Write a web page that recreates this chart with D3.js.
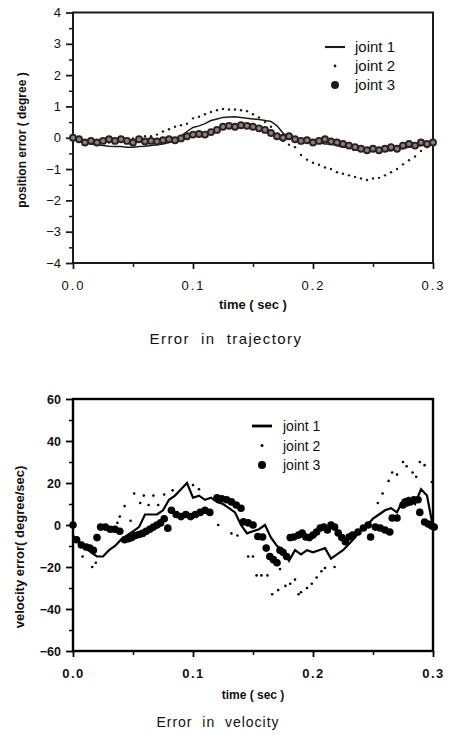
<!DOCTYPE html>
<html><head><meta charset="utf-8">
<script src="https://cdn.jsdelivr.net/npm/d3@7/dist/d3.min.js"></script>
<style>
html,body{margin:0;padding:0;background:#fff;}
svg{display:block;}
text{font-family:"Liberation Sans",Arial,Helvetica,sans-serif;fill:#111;}
</style></head>
<body>
<script>
// ---------- DATA: position error (top) ----------
const posTime = [0,0.005,0.01,0.015,0.02,0.025,0.03,0.035,0.04,0.045,0.05,0.055,0.06,0.065,0.07,0.075,0.08,0.085,0.09,0.095,0.1,0.105,0.11,0.115,0.12,0.125,0.13,0.135,0.14,0.145,0.15,0.155,0.16,0.165,0.17,0.175,0.18,0.185,0.19,0.195,0.2,0.205,0.21,0.215,0.22,0.225,0.23,0.235,0.24,0.245,0.25,0.255,0.26,0.265,0.27,0.275,0.28,0.285,0.29,0.295,0.3];
const posJoint1 = [0,-0.1,-0.15,-0.2,-0.22,-0.25,-0.27,-0.28,-0.28,-0.3,-0.3,-0.28,-0.27,-0.25,-0.22,-0.2,-0.15,-0.1,0.05,0.2,0.33,0.38,0.45,0.55,0.6,0.65,0.66,0.67,0.65,0.62,0.6,0.58,0.55,0.52,0.38,0.15,0.03,-0.05,-0.1,-0.1,-0.15,-0.15,-0.2,-0.2,-0.25,-0.3,-0.3,-0.35,-0.35,-0.4,-0.4,-0.42,-0.4,-0.42,-0.35,-0.35,-0.3,-0.28,-0.25,-0.2,-0.15];
const posJoint2 = [0,-0.05,-0.1,-0.12,-0.15,-0.15,-0.15,-0.12,-0.1,-0.05,-0.02,0,0.05,0.05,0.1,0.2,0.27,0.35,0.4,0.45,0.62,0.67,0.75,0.82,0.88,0.92,0.9,0.9,0.88,0.85,0.75,0.65,0.5,0.35,0.1,-0.1,-0.22,-0.3,-0.55,-0.7,-0.8,-0.86,-0.95,-1.0,-1.1,-1.15,-1.2,-1.25,-1.3,-1.35,-1.3,-1.28,-1.2,-1.1,-1.0,-0.85,-0.72,-0.6,-0.42,-0.3,-0.2];
const posJoint3 = [0,-0.05,-0.15,-0.1,-0.15,-0.1,-0.05,-0.1,-0.05,-0.1,-0.15,-0.05,-0.12,-0.1,-0.12,-0.08,-0.05,-0.08,-0.02,0.05,0.1,0.12,0.1,0.18,0.25,0.35,0.38,0.35,0.4,0.38,0.35,0.3,0.25,0.15,0.05,0,0.05,-0.05,-0.1,-0.08,-0.15,-0.1,-0.05,-0.12,-0.15,-0.2,-0.25,-0.3,-0.35,-0.4,-0.35,-0.4,-0.35,-0.3,-0.35,-0.25,-0.2,-0.25,-0.15,-0.2,-0.15];
const posYTicks = [-4,-3,-2,-1,0,1,2,3,4];
const posYMinor = [-3.5,-2.5,-1.5,-0.5,0.5,1.5,2.5,3.5];

// ---------- DATA: velocity error (bottom) ----------
const velTime1 = [0,0.005,0.01,0.015,0.02,0.025,0.03,0.035,0.04,0.045,0.05,0.055,0.06,0.065,0.07,0.075,0.08,0.085,0.09,0.095,0.1,0.105,0.11,0.115,0.12,0.125,0.13,0.135,0.14,0.145,0.15,0.155,0.16,0.165,0.17,0.175,0.18,0.185,0.19,0.195,0.2,0.205,0.21,0.215,0.22,0.225,0.23,0.235,0.24,0.245,0.25,0.255,0.26,0.265,0.27,0.275,0.28,0.285,0.29,0.295,0.3];
const velJoint1 = [-5,-8,-10,-13,-15,-15,-12,-10,-7,-5,-3,-1,5,5,5,7,12,14,17,20,13,14,12,13,11,10,8,6,0,-4,-3,-2,0,-6,-10,-12,-17,-12,-14,-12,-13,-12,-11,-16,-14,-12,-9,-6,-2,0,3,5,7,8,6,12,13,10,17,14,-1];
const velTime2 = [0.008,0.016,0.019,0.037,0.039,0.043,0.048,0.051,0.056,0.059,0.063,0.067,0.071,0.076,0.083,0.1,0.105,0.121,0.132,0.137,0.146,0.15,0.153,0.157,0.162,0.166,0.171,0.1725,0.177,0.181,0.185,0.188,0.19,0.195,0.199,0.203,0.207,0.21,0.218,0.254,0.258,0.263,0.266,0.27,0.275,0.278,0.283,0.286,0.289,0.293,0.299];
const velJoint2 = [-15,-20,-18,1,4,9,2,15,10.5,14,9.5,14,9.5,14.5,16.5,19,17,0,-4,-5,-15,-15,-24,-24,-24,-33,-31,-21,-29,-28,-26,-33,-32,-30,-28,-25,-22,-20.5,-20,10.5,15,21,25,24,30,28,25,23,30,28.5,20.5];
const velTime3 = [0,0.003,0.007,0.011,0.014,0.017,0.02,0.023,0.027,0.031,0.035,0.039,0.043,0.046,0.049,0.052,0.055,0.058,0.061,0.064,0.067,0.07,0.073,0.076,0.079,0.082,0.086,0.09,0.094,0.098,0.102,0.106,0.11,0.114,0.12,0.124,0.128,0.132,0.136,0.14,0.142,0.146,0.15,0.154,0.158,0.161,0.164,0.167,0.17,0.1725,0.175,0.178,0.181,0.184,0.188,0.191,0.194,0.197,0.2,0.203,0.206,0.209,0.212,0.215,0.218,0.221,0.224,0.227,0.23,0.233,0.2375,0.242,0.246,0.248,0.252,0.256,0.26,0.264,0.266,0.27,0.275,0.278,0.281,0.284,0.2875,0.289,0.293,0.296,0.299,0.301];
const velJoint3 = [0,-7,-9.5,-10.5,-11,-12,-6,-1,-1,-2,-2,-3,-7,-6.5,-6,-5,-4.5,-4,-3,-2,-1,0,1,3,-1.5,7,5,4,5,4,5,6,7,6,13,12.5,12,11,9.5,8,1.5,1,0,-5.5,-5.7,-11,-15,-16.5,-18,-12,-13,-15,-6,-5.7,-4.8,-3.8,-5.7,-6,-4.8,-3.3,-1.4,-1,-2.4,0,-1,-3.8,-6,-8,-5.7,-4.8,-3.3,-1.4,0,-5.7,-1,-1.4,-2.4,-3.3,3.3,3.3,9.5,10.5,11,12,12,6,1.4,0.5,-0.5,-1];
const velYTicks = [-60,-40,-20,0,20,40,60];
const velYMinor = [-50,-30,-10,10,30,50];

const xTicks = [0,0.1,0.2,0.3];
const xMinor = [0.05,0.15,0.25];
const legendLabels = ["joint 1","joint 2","joint 3"];

// ---------- DRAW ----------
const W = 454, H = 735;
const svg = d3.select("body").append("svg").attr("width", W).attr("height", H);

function panel(cfg){
  const g = svg.append("g");
  const x = d3.scaleLinear().domain([0,0.3]).range([73,433]);
  const y = d3.scaleLinear().domain(cfg.yDomain).range(cfg.yRange);
  const ink = cfg.ink;
  g.append("rect").attr("x",73).attr("y",cfg.yRange[1]).attr("width",360).attr("height",cfg.yRange[0]-cfg.yRange[1])
    .attr("fill","none").attr("stroke",ink).attr("stroke-width",cfg.frameW);
  const ya = g.append("g").attr("transform","translate(73,0)")
    .call(d3.axisLeft(y).tickValues(cfg.yTicks).tickSize(7).tickPadding(5).tickFormat(d3.format("d")));
  ya.select(".domain").remove();
  ya.selectAll("line").attr("stroke",ink).attr("stroke-width",1.8);
  ya.selectAll("text").attr("font-size",cfg.yFont).attr("font-weight",cfg.yWeight).attr("fill",ink);
  const ym = g.append("g").attr("transform","translate(73,0)")
    .call(d3.axisLeft(y).tickValues(cfg.yMinor).tickSize(4).tickFormat(""));
  ym.select(".domain").remove();
  ym.selectAll("line").attr("stroke",ink).attr("stroke-width",1.5);
  const xa = g.append("g").attr("transform",`translate(0,${cfg.yRange[0]})`)
    .call(d3.axisBottom(x).tickValues(xTicks).tickSize(6).tickPadding(12).tickFormat(d3.format(".1f")));
  xa.select(".domain").remove();
  xa.selectAll("line").attr("stroke",ink).attr("stroke-width",1.8);
  xa.selectAll("text").attr("font-size",cfg.xFont).attr("font-weight",cfg.xWeight).attr("letter-spacing",cfg.xSpacing).attr("fill",ink);
  const xm = g.append("g").attr("transform",`translate(0,${cfg.yRange[0]})`)
    .call(d3.axisBottom(x).tickValues(xMinor).tickSize(4).tickFormat(""));
  xm.select(".domain").remove();
  xm.selectAll("line").attr("stroke",ink).attr("stroke-width",1.5);
  g.append("text").attr("x",253).attr("y",cfg.xTitleY).attr("text-anchor","middle")
    .attr("font-size",cfg.xTitleFont).attr("font-weight","bold").text("time ( sec )");
  g.append("text").attr("transform",`translate(${cfg.yTitleX},${cfg.yTitleCY}) rotate(-90)`).attr("text-anchor","middle")
    .attr("font-size",cfg.yTitleFont).attr("font-weight","bold").text(cfg.yTitle);
  g.append("text").attr("x",cfg.capX).attr("y",cfg.capY).attr("text-anchor","middle")
    .attr("font-size",cfg.capFont).attr("letter-spacing",cfg.capSpacing).attr("font-weight",cfg.capWeight)
    .attr("xml:space","preserve").style("white-space","pre").text(cfg.caption);

  const plot = g.append("g");
  const line = d3.line().x(d=>x(d[0])).y(d=>y(d[1]));
  plot.append("path").datum(d3.zip(cfg.t1,cfg.v1)).attr("d",line).attr("fill","none")
    .attr("stroke",ink).attr("stroke-width",cfg.lineW).attr("stroke-linejoin","miter");
  plot.selectAll(".j2").data(d3.zip(cfg.t2,cfg.v2)).join("circle").attr("class","j2")
    .attr("cx",d=>x(d[0])).attr("cy",d=>y(d[1])).attr("r",cfg.dotR).attr("fill",ink);
  plot.selectAll(".j3").data(d3.zip(cfg.t3,cfg.v3)).join("circle").attr("class","j3")
    .attr("cx",d=>x(d[0])).attr("cy",d=>y(d[1])).attr("r",cfg.j3R)
    .attr("fill",cfg.j3Fill).attr("stroke",cfg.j3Stroke).attr("stroke-width",cfg.j3SW);

  const lg = g.append("g");
  const L = cfg.legend;
  lg.append("line").attr("x1",L.x-10).attr("x2",L.x+10).attr("y1",L.y).attr("y2",L.y).attr("stroke",ink).attr("stroke-width",cfg.lineW+0.6);
  lg.append("circle").attr("cx",L.x).attr("cy",L.y+L.dy).attr("r",cfg.dotR+0.2).attr("fill",ink);
  lg.append("circle").attr("cx",L.x).attr("cy",L.y+2*L.dy).attr("r",4).attr("fill",ink);
  lg.selectAll("text").data(legendLabels).join("text").attr("x",L.tx).attr("y",(d,i)=>L.y+i*L.dy+5)
    .attr("font-size",L.font).attr("fill",ink).text(d=>d);
}

panel({
  yDomain:[-4,4], yRange:[263,12.5], yTicks:posYTicks, yMinor:posYMinor, ink:"#1e1a1a", frameW:2,
  yFont:13, yWeight:"normal", xFont:13, xWeight:"normal", xSpacing:2,
  xTitleY:309, xTitleFont:13, yTitle:"position error ( degree )", yTitleX:26, yTitleCY:140, yTitleFont:12,
  caption:"Error  in  trajectory", capX:226, capY:344, capFont:15, capSpacing:1.4, capWeight:"normal",
  t1:posTime, v1:posJoint1, t2:posTime, v2:posJoint2, t3:posTime, v3:posJoint3,
  lineW:1.5, dotR:1.2, j3R:3, j3Fill:"#8a8080", j3Stroke:"#2a2222", j3SW:1.9,
  legend:{x:335, y:47, dy:19, tx:355, font:15}
});

panel({
  yDomain:[-60,60], yRange:[651,399], yTicks:velYTicks, yMinor:velYMinor, ink:"#000", frameW:2.4,
  yFont:12.5, yWeight:"bold", xFont:13, xWeight:"bold", xSpacing:1.5,
  xTitleY:699, xTitleFont:12, yTitle:"velocity error( degree/sec)", yTitleX:24, yTitleCY:547, yTitleFont:13,
  caption:"Error  in  velocity", capX:218, capY:727, capFont:14, capSpacing:1, capWeight:"500",
  t1:velTime1, v1:velJoint1, t2:velTime2, v2:velJoint2, t3:velTime3, v3:velJoint3,
  lineW:2.2, dotR:1.3, j3R:3.8, j3Fill:"#000", j3Stroke:"none", j3SW:0,
  legend:{x:262, y:426, dy:19.5, tx:283, font:14}
});
</script>
</body></html>
